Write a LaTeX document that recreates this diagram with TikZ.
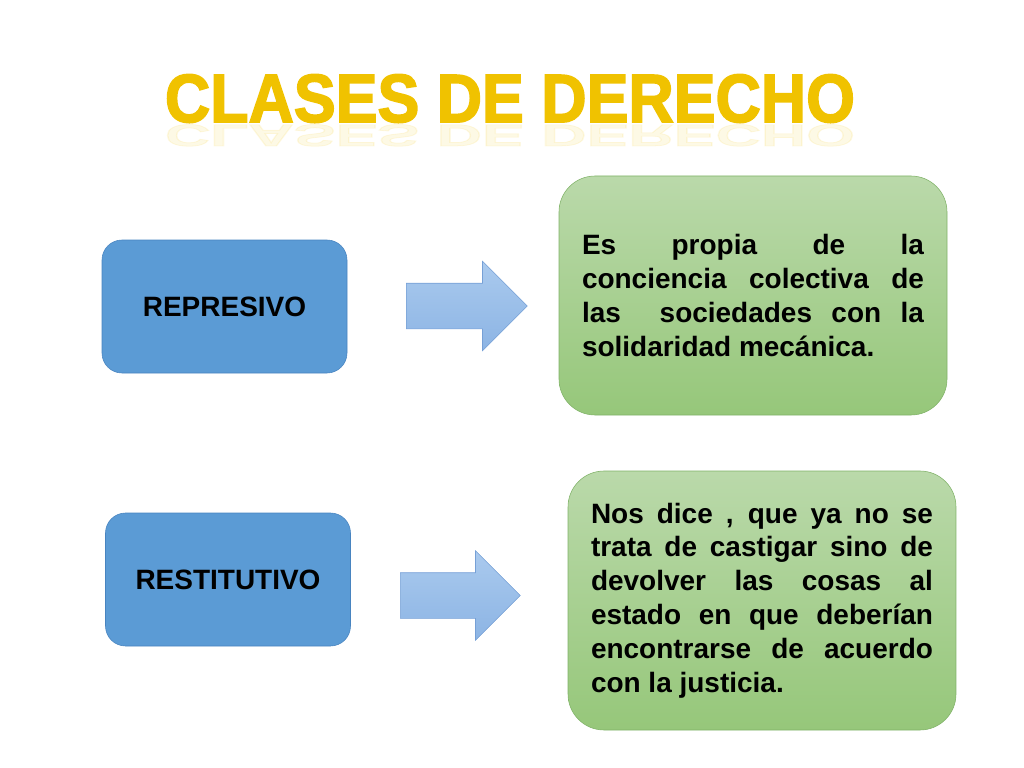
\documentclass[tikz,border=0pt]{standalone}
\usepackage{fontspec}
\setmainfont{Liberation Sans}
\newfontfamily\titleFont[FakeBold=2.5]{Liberation Sans}
\usepackage{tikz}
\usetikzlibrary{shapes, shapes.arrows, positioning}
\definecolor{boxBlue}{RGB}{91,155,213}
\definecolor{boxBlueLine}{RGB}{72,132,192}
\definecolor{leafTop}{RGB}{186,217,170}
\definecolor{leafBottom}{RGB}{150,199,122}
\definecolor{leafLine}{RGB}{128,178,104}
\definecolor{skyTop}{RGB}{170,202,238}
\definecolor{skyBottom}{RGB}{140,180,228}
\definecolor{skyLine}{RGB}{118,160,214}
\definecolor{gold}{RGB}{240,194,0}

\begin{document}
\begin{tikzpicture}[
		blueBox/.style={draw=boxBlueLine, fill=boxBlue, rounded corners=0.5cm, minimum width=6.125cm, minimum height=3.325cm, font=\fontsize{19.9}{24.1}\selectfont\bfseries},
		greenBox/.style={draw=leafLine, top color=leafTop, bottom color=leafBottom, rounded corners=0.9cm, minimum width=9.7cm, text width=8.55cm, align=justify, inner sep=0pt, font=\fontsize{19.9}{24.1}\selectfont\bfseries},
		blockArrow/.style={single arrow, draw=skyLine, top color=skyTop, bottom color=skyBottom, inner xsep=0pt, inner ysep=0.5625cm, single arrow head extend=0.55cm, minimum height=3.025cm, anchor=tail},
		titleText/.style={font=\titleFont\fontsize{48.5}{48.5}\selectfont\bfseries, text=gold, anchor=base, transform shape}]
		
		\useasboundingbox (0,0) rectangle (25.6,-19.2);
		
		% title and its reflection
		\node [titleText, xscale=0.92, opacity=0.1, yscale=-0.45] (titleMirror) at (12.75,-3.12) {CLASES DE DERECHO};
		\node [titleText, xscale=0.92] (title) at (12.75,-3.05) {CLASES DE DERECHO};
		
		\node [blueBox] (represivo) at (5.6125,-7.6625) {REPRESIVO};
		\node [blueBox] (restitutivo) at (5.7,-14.4875) {RESTITUTIVO};
		
		\node [blockArrow] (arrowRep) at (10.15,-7.65) {};
		\node [blockArrow, minimum height=3cm] (arrowRes) at (10.0,-14.8875) {};
		
		\node [greenBox, minimum height=5.975cm] (descRep) at (18.825,-7.3875)
			{Es propia de la\linebreak conciencia colectiva de\linebreak las\ \ sociedades con la\linebreak solidaridad mecánica.};
		\node [greenBox, minimum height=6.475cm] (descRes) at (19.05,-15.0125)
			{Nos dice , que ya no se\linebreak trata de castigar sino de\linebreak devolver las cosas al\linebreak estado en que deberían\linebreak encontrarse de acuerdo\linebreak con la justicia.};
	\end{tikzpicture}
\end{document}
